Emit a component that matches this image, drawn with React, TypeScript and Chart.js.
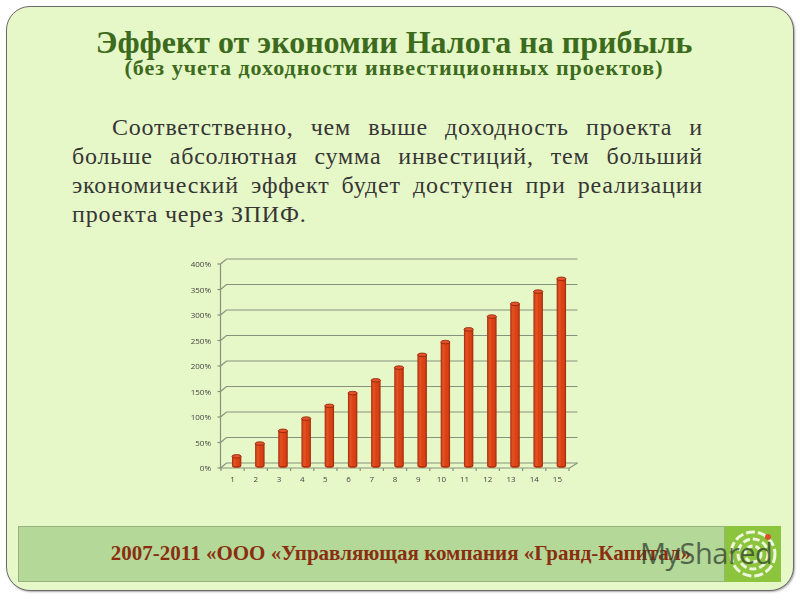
import React, { useEffect, useRef } from "react";
import { Chart, registerables } from "chart.js";

Chart.register(...registerables);

const categories = ["1", "2", "3", "4", "5", "6", "7", "8", "9", "10", "11", "12", "13", "14", "15"];
const effectValues = [19, 44, 69, 93, 118, 143, 168, 193, 218, 243, 268, 293, 318, 342, 367];
const yTickValues = [0, 50, 100, 150, 200, 250, 300, 350, 400];

const titleText = "Эффект от экономии Налога на прибыль";
const subtitleText = "(без учета доходности инвестиционных проектов)";
const bodyLines = [
  "Соответственно, чем выше доходность проекта и",
  "больше абсолютная сумма инвестиций, тем больший",
  "экономический эффект будет доступен при реализации",
  "проекта через ЗПИФ.",
];
const footerText = "2007-2011 «ООО «Управляющая компания «Гранд-Капитал»";

const BG = "#e7f8c8";
const GRID = "#87927c";
const BAR = "#d93c0e";

const perspectivePlugin = {
  id: "perspective",
  beforeDatasetsDraw(chart: any) {
    const { ctx, chartArea, scales } = chart;
    const ys = scales.y;
    const xs = scales.x;
    const L = chartArea.left;
    const R = chartArea.right;
    ctx.save();
    ctx.strokeStyle = GRID;
    ctx.lineWidth = 1.2;
    yTickValues.forEach((v) => {
      const py = ys.getPixelForValue(v);
      ctx.beginPath();
      ctx.moveTo(L - 4.5, py + 2);
      ctx.lineTo(L + 1.5, py - 3);
      ctx.lineTo(R + 4.5, py - 3);
      ctx.stroke();
      ctx.beginPath();
      ctx.moveTo(L - 7.5, py + 2);
      ctx.lineTo(L - 4.5, py + 2);
      ctx.stroke();
    });
    const top = ys.getPixelForValue(yTickValues[yTickValues.length - 1]);
    const bot = ys.getPixelForValue(0);
    ctx.beginPath();
    ctx.moveTo(L - 4.5, top + 2);
    ctx.lineTo(L - 4.5, bot + 2);
    ctx.lineTo(R - 3.5, bot + 2);
    ctx.lineTo(R + 4.5, bot - 3);
    ctx.stroke();
    for (let i = 0; i <= categories.length; i++) {
      const px = xs.getPixelForValue(i - 0.5) - 4;
      ctx.beginPath();
      ctx.moveTo(px, bot + 2);
      ctx.lineTo(px, bot + 5);
      ctx.stroke();
    }
    ctx.restore();
  },
  afterDatasetsDraw(chart: any) {
    const { ctx } = chart;
    const meta = chart.getDatasetMeta(0);
    ctx.save();
    meta.data.forEach((el: any) => {
      const { x, y, base, width } = el.getProps(["x", "y", "base", "width"], true);
      const l = x - width / 2;
      const g = ctx.createLinearGradient(l, 0, l + width, 0);
      g.addColorStop(0, "rgba(110,20,0,0.55)");
      g.addColorStop(0.3, "rgba(255,150,100,0.25)");
      g.addColorStop(0.6, "rgba(255,120,70,0.05)");
      g.addColorStop(1, "rgba(110,20,0,0.6)");
      ctx.fillStyle = g;
      ctx.fillRect(l, y, width, base - y);
      ctx.beginPath();
      ctx.ellipse(x, base, width / 2, 1.8, 0, 0, Math.PI);
      ctx.fillStyle = "#b8300a";
      ctx.fill();
      ctx.beginPath();
      ctx.ellipse(x, y, width / 2, 1.8, 0, 0, Math.PI * 2);
      ctx.fillStyle = "#e4522a";
      ctx.fill();
      ctx.strokeStyle = "#8a2206";
      ctx.lineWidth = 0.8;
      ctx.stroke();
    });
    ctx.restore();
  },
};

function BarChart() {
  const ref = useRef<HTMLCanvasElement | null>(null);
  useEffect(() => {
    if (!ref.current) return;
    const chart = new Chart(ref.current, {
      type: "bar",
      data: {
        labels: categories,
        datasets: [
          {
            data: effectValues,
            backgroundColor: BAR,
            borderWidth: 0,
            barPercentage: 0.4,
            categoryPercentage: 1,
          },
        ],
      },
      options: {
        animation: false,
        responsive: false,
        maintainAspectRatio: false,
        layout: { padding: { top: 12, right: 17, left: 0, bottom: 0 } },
        plugins: { legend: { display: false }, tooltip: { enabled: false } },
        scales: {
          x: {
            grid: { display: false, drawTicks: false },
            border: { display: false },
            ticks: {
              color: "#444",
              font: { family: "Open Sans", size: 8 },
              padding: 9,
              labelOffset: -4,
              maxRotation: 0,
            },
            afterFit: (s: any) => {
              s.height = 29;
              s.paddingLeft = 0;
              s.paddingRight = 0;
            },
          },
          y: {
            min: 0,
            max: 400,
            grid: { display: false, drawTicks: false },
            border: { display: false },
            ticks: {
              stepSize: 50,
              color: "#444",
              font: { family: "Open Sans", size: 8 },
              padding: 14,
              labelOffset: 3,
              callback: (v: any) => `${v}%`,
            },
            afterFit: (s: any) => {
              s.width = 55;
              s.paddingTop = 0;
              s.paddingBottom = 0;
            },
          },
        },
      },
      plugins: [perspectivePlugin],
    });
    return () => chart.destroy();
  }, []);
  return (
    <canvas
      ref={ref}
      width={420}
      height={245}
      style={{ position: "absolute", left: 170, top: 250, width: 420, height: 245 }}
    />
  );
}

const bodyLineStyle = (last: boolean, indent: number): React.CSSProperties => ({
  position: "relative",
  marginLeft: indent,
  textAlign: last ? "left" : "justify",
  textAlignLast: last ? "left" : "justify",
  whiteSpace: "nowrap",
});

export default function App() {
  return (
    <div
      style={{
        position: "fixed",
        left: 0,
        top: 0,
        width: 800,
        height: 600,
        background: "#fff",
        overflow: "hidden",
      }}
    >
      <div
        style={{
          position: "absolute",
          left: 6,
          top: 6,
          width: 788,
          height: 585,
          boxSizing: "border-box",
          border: "1.5px solid #6a6a6a",
          borderRadius: 24,
          background: BG,
          boxShadow: "1px 1px 2px rgba(0,0,0,0.35)",
        }}
      />
      <div
        style={{
          position: "absolute",
          left: 0,
          top: 24,
          width: 788,
          textAlign: "center",
          fontFamily: "'Liberation Serif', serif",
          fontWeight: "bold",
          fontSize: 32,
          lineHeight: "36px",
          color: "#3d6b1e",
        }}
      >
        {titleText}
      </div>
      <div
        style={{
          position: "absolute",
          left: 0,
          top: 55,
          width: 788,
          textAlign: "center",
          fontFamily: "'Liberation Serif', serif",
          fontWeight: "bold",
          fontSize: 22,
          letterSpacing: 1,
          lineHeight: "26px",
          color: "#3d6b1e",
        }}
      >
        {subtitleText}
      </div>
      <div
        style={{
          position: "absolute",
          left: 72,
          top: 113,
          width: 631,
          fontFamily: "'Liberation Serif', serif",
          fontSize: 24,
          letterSpacing: 0.8,
          lineHeight: "29px",
          color: "#363636",
        }}
      >
        {bodyLines.map((line, i) => (
          <div key={i} style={bodyLineStyle(i === bodyLines.length - 1, i === 0 ? 40 : 0)}>
            {line}
          </div>
        ))}
      </div>
      <BarChart />
      <div
        style={{
          position: "absolute",
          left: 18,
          top: 526,
          width: 707,
          height: 56,
          boxSizing: "border-box",
          background: "#b3d898",
          border: "1px solid #97b382",
        }}
      />
      <div
        style={{
          position: "absolute",
          left: 725,
          top: 526,
          width: 56,
          height: 56,
          background: "#8cc43d",
        }}
      >
        <svg width={56} height={56} viewBox="0 0 56 56">
          <circle cx={28} cy={28} r={22} fill="none" stroke="#eef7dc" strokeWidth={3} strokeDasharray="9 3" />
          <circle cx={28} cy={28} r={15} fill="none" stroke="#eef7dc" strokeWidth={3} strokeDasharray="7 3" />
          <circle cx={28} cy={28} r={8} fill="none" stroke="#eef7dc" strokeWidth={3} strokeDasharray="5 3" />
          <circle cx={43} cy={11} r={3} fill="#d9502a" />
        </svg>
      </div>
      <div
        style={{
          position: "absolute",
          left: 0,
          top: 540,
          width: 802,
          textAlign: "center",
          fontFamily: "'Liberation Serif', serif",
          fontWeight: "bold",
          fontSize: 21,
          lineHeight: "26px",
          color: "#8a2e0f",
        }}
      >
        {footerText}
      </div>
      <div
        style={{
          position: "absolute",
          left: 640,
          top: 535,
          fontFamily: "'Open Sans', sans-serif",
          fontSize: 29,
          lineHeight: "36px",
          color: "rgba(50,65,50,0.75)",
          letterSpacing: -0.5,
        }}
      >
        MyShared
      </div>
    </div>
  );
}
